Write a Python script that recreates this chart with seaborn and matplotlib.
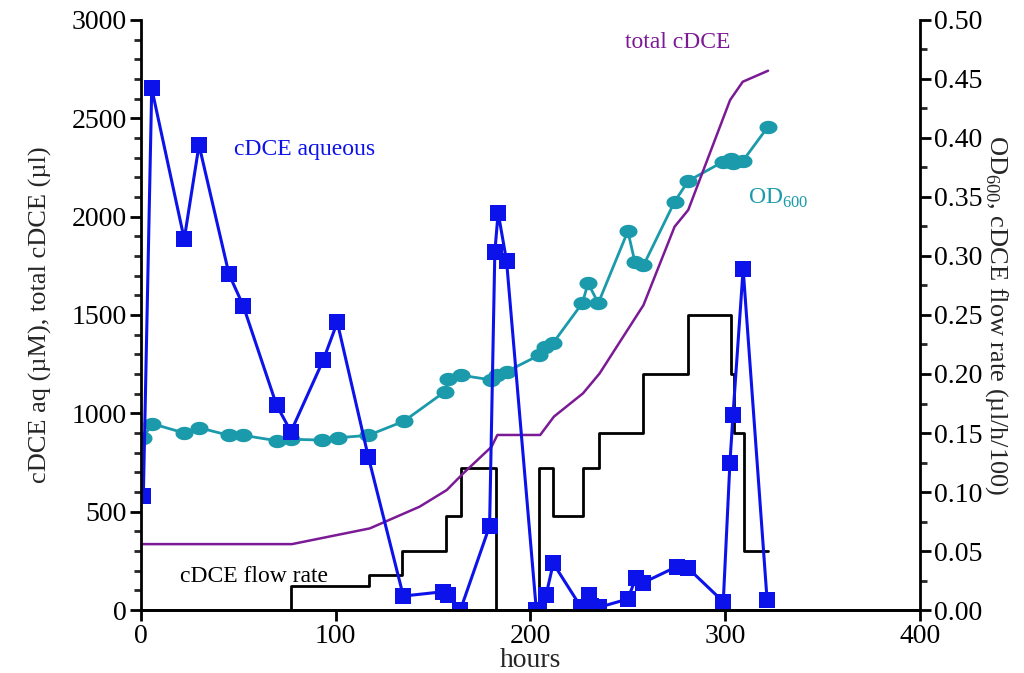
import matplotlib
matplotlib.use("Agg")
import matplotlib.pyplot as plt
from matplotlib.ticker import MultipleLocator, FormatStrFormatter
import seaborn as sns
import numpy as np
import pandas as pd

# cDCE aqueous (uM), left axis
aq_hours = [1.2, 5.5, 22.2, 29.8, 45.2, 52.5, 69.6, 77, 93.6, 100.8, 116.7, 134.7,
            155.2, 157.8, 164, 179, 181.7, 183.4, 187.7, 203, 204.5, 208, 211.7,
            226, 230, 231.3, 235.3, 250, 254, 257.9, 275, 281, 299, 302.4, 304,
            309.2, 321.5]
aq_conc = [580, 2652, 1886, 2364, 1707, 1547, 1042, 907, 1271, 1463, 780, 71,
           93, 76, 0, 427, 1822, 2020, 1776, 0, 0, 76, 237,
           14, 76, 20, 14, 56, 161, 139, 220, 212, 42, 746, 992,
           1734, 51]

# total cDCE (ul), left axis
tot_hours = [0, 77.5, 117.5, 143, 157, 165.5, 180, 183, 205, 212, 227, 235.5,
             258, 274, 281, 302.5, 309, 322]
tot_cdce = [335, 335, 415, 525, 610, 695, 830, 890, 890, 983, 1102, 1203,
            1550, 1949, 2034, 2593, 2686, 2742]

# OD600, right axis
od_hours = [1.2, 5.5, 22.2, 29.8, 45.2, 52.5, 69.6, 77, 93, 101, 116.7, 135,
            156, 157.8, 164.3, 179.7, 182.6, 187.7, 204.5, 207.4, 211.7, 226.6,
            229.6, 234.8, 250, 253.6, 258, 274, 281, 299, 303, 304, 309, 322]
od600 = [0.1455, 0.158, 0.150, 0.1545, 0.148, 0.148, 0.1435, 0.1447, 0.144, 0.146,
         0.148, 0.160, 0.185, 0.196, 0.199, 0.195, 0.199, 0.202, 0.216, 0.223,
         0.2265, 0.260, 0.277, 0.260, 0.321, 0.295, 0.292, 0.346, 0.3636, 0.380,
         0.382, 0.3785, 0.3805, 0.4096]

# cDCE flow rate (ul/h/100), right axis, step function
flow_hours = [77, 77, 117, 134, 156.5, 164.5, 182.5, 204.5, 211.5, 227, 235,
              258, 281, 303, 304.5, 309.5, 322]
flow_rate = [0, 0.02, 0.03, 0.05, 0.08, 0.12, 0, 0.12, 0.08, 0.12, 0.15,
             0.20, 0.25, 0.20, 0.15, 0.05, 0.05]

BLUE = "#0c12ea"
TEAL = "#1a9aab"
PURPLE = "#7b1a95"

sns.set_style("ticks")
plt.rcParams["font.family"] = ["Liberation Serif", "DejaVu Serif"]
plt.rcParams["mathtext.fontset"] = "custom"
plt.rcParams["mathtext.rm"] = "Liberation Serif"

fig = plt.figure(figsize=(10.24, 6.73), dpi=100)
ax = fig.add_axes([0.1377, 0.0936, 0.7607, 0.8767])
ax2 = ax.twinx()

t = np.linspace(0, 2 * np.pi, 40)
ellipse = list(zip(1.35 * np.cos(t), np.sin(t)))

sns.lineplot(x=flow_hours, y=flow_rate, ax=ax2, color="black", lw=2,
             drawstyle="steps-post", sort=False, estimator=None)
sns.lineplot(x=od_hours, y=od600, ax=ax2, color=TEAL, lw=2, marker=ellipse,
             markersize=13, markeredgewidth=0, sort=False, estimator=None)
sns.lineplot(x=tot_hours, y=tot_cdce, ax=ax, color=PURPLE, lw=1.8,
             sort=False, estimator=None)
sns.lineplot(x=aq_hours, y=aq_conc, ax=ax, color=BLUE, lw=2.2, marker="s",
             markersize=12, markeredgewidth=0, sort=False, estimator=None)

ax.set_zorder(ax2.get_zorder() + 1)
ax.patch.set_visible(False)

ax.set_xlim(0, 400)
ax.set_ylim(0, 3000)
ax2.set_ylim(0, 0.5)
ax.xaxis.set_major_locator(MultipleLocator(100))
ax.yaxis.set_major_locator(MultipleLocator(500))
ax.yaxis.set_minor_locator(MultipleLocator(100))
ax2.yaxis.set_major_locator(MultipleLocator(0.05))
ax2.yaxis.set_minor_locator(MultipleLocator(0.025))
ax2.yaxis.set_major_formatter(FormatStrFormatter("%.2f"))

for a in (ax, ax2):
    a.spines["top"].set_visible(False)
    for s in ("left", "right", "bottom"):
        a.spines[s].set_linewidth(2)
        a.spines[s].set_color("black")
    a.tick_params(which="major", length=8, width=2, labelsize=20, colors="black",
                  pad=2)
    a.tick_params(which="minor", length=5, width=2)
ax.spines["right"].set_visible(False)
ax2.spines["left"].set_visible(False)

ax.set_xlabel("hours", fontsize=20, labelpad=-1)
ax.set_ylabel("cDCE aq (µM), total cDCE (µl)", fontsize=19, labelpad=14)
ax2.set_ylabel(r"OD$_{600}$, cDCE flow rate (µl/h/100)", fontsize=19,
               rotation=270, labelpad=20)

ax.text(48, 2340, "cDCE aqueous", color=BLUE, fontsize=17, va="center")
ax.text(248.5, 2888, "total cDCE", color=PURPLE, fontsize=17, va="center")
ax.text(311.5, 2095, r"OD$_{600}$", color=TEAL, fontsize=17, va="center")
ax.text(20, 168, "cDCE flow rate", color="black", fontsize=17, va="center")

fig.savefig("out.png", dpi=100)
